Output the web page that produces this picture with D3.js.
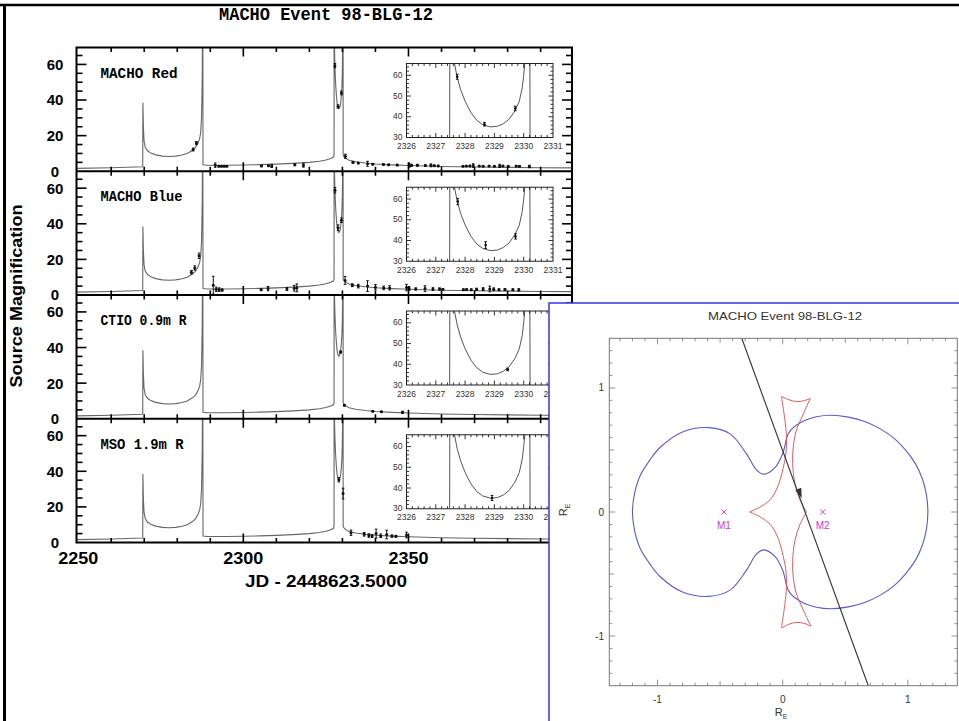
<!DOCTYPE html>
<meta charset="utf-8">
<style>
body { margin: 0; background: #fff; }
svg { display: block; }
</style>
<body>
<script src="https://cdnjs.cloudflare.com/ajax/libs/d3/7.8.5/d3.min.js"></script>
<script>
// ---- light curve model (JD - 2448623.5, magnification)
var model = [
  [2249.5, 1.6], [2260, 2.0], [2269.55, 2.5], [2269.6, 38.5], [2269.75, 25], [2269.95, 17],
  [2270.3, 13.5], [2271, 11.5], [2272, 10.2], [2273.5, 9.2], [2275.5, 8.5], [2277.5, 8.3],
  [2279.5, 8.5], [2281.5, 9.1], [2283, 10], [2284.5, 11.6], [2285.5, 13.3], [2286.3, 15.8],
  [2286.8, 18.5], [2287.1, 22], [2287.35, 30], [2287.55, 50], [2287.65, 80], [2287.75, 80],
  [2287.8, 3.6], [2289, 3.4], [2295, 3.4], [2300, 3.5], [2305, 3.7], [2310, 4.0], [2315, 4.4],
  [2320, 5.0], [2323, 5.6], [2325, 6.3], [2326.5, 7.2], [2327.3, 8.0], [2327.47, 9],
  [2327.48, 80], [2327.55, 80], [2327.64, 65.5], [2327.73, 59], [2327.85, 53], [2328.0, 47.5],
  [2328.2, 42], [2328.4, 38.3], [2328.6, 36.2], [2328.86, 35.1], [2329.1, 35.4], [2329.3, 36.6],
  [2329.5, 38.8], [2329.7, 42.8], [2329.85, 47.5], [2329.95, 54], [2330.0, 60], [2330.04, 66],
  [2330.1, 80], [2330.21, 80], [2330.22, 9], [2330.5, 8.2], [2331, 7.2], [2332, 6.2],
  [2334, 5.3], [2337, 4.6], [2340, 4.1], [2345, 3.6], [2350, 3.2], [2360, 2.7], [2370, 2.4],
  [2380, 2.2], [2390, 2.0], [2399.5, 1.9]
];

// ---- observations: [JD, magnification, error]
var redPts = [
  [2284.8, 12.2, 0.8], [2285.8, 15.8, 0.9], [2291.5, 3.4, 1.2], [2292.6, 2.8, 0.3], [2293.4, 2.8, 0.3],
  [2294.2, 2.8, 0.3], [2295, 2.8, 0.3], [2305.5, 3.0, 0.4], [2307.6, 3.1, 0.4], [2308.6, 3.0, 0.9],
  [2315.6, 3.6, 0.5], [2318.2, 3.4, 1.1], [2327.73, 59.3, 1.2], [2328.66, 36.4, 0.9], [2329.71, 44.0, 1.1],
  [2330.9, 8.4, 1.2], [2333.2, 5.0, 0.5], [2334.8, 4.6, 0.4], [2337.6, 4.2, 1.4], [2339.2, 4.0, 0.4],
  [2342.4, 3.8, 0.4], [2344.0, 3.6, 0.4], [2346.6, 3.5, 0.4], [2350.2, 3.4, 1.2], [2350.9, 3.3, 0.6],
  [2352.7, 3.4, 0.5], [2355.1, 3.2, 0.4], [2356.8, 3.3, 0.8], [2357.8, 3.1, 0.4], [2359.0, 3.0, 0.4],
  [2366.5, 2.8, 0.3], [2367.5, 2.9, 0.3], [2368.6, 3.0, 0.4], [2369.6, 3.2, 1.0], [2371.4, 2.9, 0.3],
  [2372.6, 2.8, 0.3], [2374.4, 2.9, 0.3], [2376.0, 2.8, 0.3], [2377.6, 3.0, 0.9], [2378.6, 3.0, 0.3],
  [2380.2, 2.8, 0.3], [2382.6, 2.9, 0.3], [2383.6, 2.8, 0.3], [2386.6, 2.7, 0.7]
];
var bluePts = [
  [2284.3, 12.8, 1.0], [2285.3, 15.2, 1.2], [2286.6, 22.0, 1.5], [2290.9, 5.5, 5.0], [2291.8, 3.2, 1.2],
  [2292.7, 3.0, 1.0], [2293.6, 2.8, 0.6], [2305.4, 3.0, 0.5], [2307.5, 3.6, 1.2], [2313.2, 3.4, 0.8],
  [2315.4, 3.8, 1.6], [2316.2, 4.0, 2.2], [2327.75, 58.8, 1.5], [2328.7, 37.8, 1.6], [2329.72, 42.0, 1.3],
  [2330.8, 8.2, 2.2], [2333.0, 5.5, 0.8], [2334.8, 5.0, 1.0], [2337.6, 5.0, 3.0], [2340.0, 4.4, 1.5],
  [2342.5, 4.0, 1.0], [2344.3, 4.0, 1.2], [2349.4, 4.2, 1.8], [2350.2, 3.6, 1.0], [2352.2, 3.4, 0.6],
  [2355.0, 3.6, 1.6], [2357.4, 3.3, 0.8], [2359.4, 3.4, 0.6], [2360.4, 3.2, 0.4], [2366.6, 3.0, 0.4],
  [2367.6, 3.1, 0.4], [2369.0, 3.0, 0.4], [2370.6, 3.2, 0.6], [2372.6, 3.3, 0.8], [2374.6, 3.4, 1.6],
  [2375.8, 3.2, 0.8], [2377.4, 3.0, 0.5], [2379.2, 3.1, 0.5], [2381.6, 3.0, 0.5], [2383.4, 2.9, 0.6]
];
var ctioPts = [
  [2329.45, 37.5, 0.6], [2330.6, 7.6, 0.4], [2339.2, 4.2, 0.3], [2341.8, 3.9, 0.3], [2348.2, 3.6, 0.6]
];
var msoPts = [
  [2328.92, 35.2, 1.2], [2330.2, 27.5, 3.0], [2332.6, 5.5, 1.5], [2336.6, 4.6, 1.0], [2338.0, 3.9, 1.0],
  [2339.0, 3.6, 0.8], [2340.2, 5.0, 2.5], [2341.6, 3.8, 1.0], [2343.4, 4.5, 2.4], [2345.0, 3.6, 0.6],
  [2346.2, 3.5, 0.5], [2349.4, 4.2, 1.6]
];

var panelNames = ["MACHO Red", "MACHO Blue", "CTIO 0.9m R", "MSO 1.9m R"];
var panelPts = [redPts, bluePts, ctioPts, msoPts];
var xLabels = [2250, 2300, 2350];
var yLabels = [0, 20, 40, 60];
var insetXLabels = [2326, 2327, 2328, 2329, 2330, 2331];
var insetYLabels = [30, 40, 50, 60];

// ---- lens geometry (units of R_E)
var critCurve = [
  [-1.20, 0.0], [-1.185, 0.14], [-1.14, 0.29], [-1.06, 0.42], [-0.98, 0.52], [-0.80, 0.645],
  [-0.59, 0.68], [-0.42, 0.63], [-0.29, 0.47], [-0.21, 0.34], [-0.15, 0.305], [-0.06, 0.36],
  [0.0, 0.47], [0.05, 0.64], [0.14, 0.72], [0.27, 0.768], [0.39, 0.78], [0.525, 0.765],
  [0.655, 0.73], [0.78, 0.67], [0.888, 0.595], [0.98, 0.50], [1.06, 0.39], [1.115, 0.27],
  [1.148, 0.14], [1.16, 0.0],
  [1.148, -0.14], [1.115, -0.27], [1.06, -0.39], [0.98, -0.50], [0.888, -0.595], [0.78, -0.67],
  [0.655, -0.73], [0.525, -0.765], [0.39, -0.78], [0.27, -0.768], [0.14, -0.72], [0.05, -0.64],
  [0.0, -0.47], [-0.06, -0.36], [-0.15, -0.305], [-0.21, -0.34], [-0.29, -0.47], [-0.42, -0.63],
  [-0.59, -0.68], [-0.80, -0.645], [-0.98, -0.52], [-1.06, -0.42], [-1.14, -0.29], [-1.185, -0.14]
];
var causticTop = [[-0.01, 0.93], [0.05, 0.905], [0.11, 0.89], [0.17, 0.897], [0.22, 0.915]];
var causticRightUp = [[0.22, 0.915], [0.165, 0.79], [0.11, 0.66], [0.085, 0.53], [0.08, 0.39], [0.098, 0.23], [0.138, 0.10], [0.19, 0.0]];
var causticLeftUp = [[-0.01, 0.93], [0.018, 0.74], [0.03, 0.61], [0.026, 0.47], [0.005, 0.36], [-0.02, 0.26], [-0.05, 0.18], [-0.10, 0.10], [-0.18, 0.04], [-0.264, 0.0]];
var causticBottom = [[-0.01, -0.935], [0.05, -0.905], [0.11, -0.89], [0.17, -0.897], [0.225, -0.92]];
var causticRightDown = [[0.225, -0.92], [0.165, -0.79], [0.11, -0.66], [0.085, -0.53], [0.08, -0.39], [0.098, -0.23], [0.138, -0.10], [0.19, 0.0]];
var causticLeftDown = [[-0.01, -0.935], [0.018, -0.74], [0.03, -0.61], [0.026, -0.47], [0.005, -0.36], [-0.02, -0.26], [-0.05, -0.18], [-0.10, -0.10], [-0.18, -0.04], [-0.264, 0.0]];
var trajectory = [[-0.327, 1.4], [0.684, -1.4]];
var arrowAt = [0.152, 0.11];
var masses = [{name: "M1", x: -0.47, y: 0}, {name: "M2", x: 0.32, y: 0}];
var rTickLabels = [-1, 0, 1];

var sans = "'Liberation Sans', Arial, sans-serif";
var mono = "'Liberation Mono', 'Courier New', monospace";

var svg = d3.select("body").append("svg").attr("width", 959).attr("height", 721);
svg.append("rect").attr("width", 959).attr("height", 721).attr("fill", "#fff");

// outer scan border
svg.append("line").attr("x1", 0).attr("y1", 5).attr("x2", 959).attr("y2", 5)
  .attr("stroke", "#000").attr("stroke-width", 2.5);
svg.append("line").attr("x1", 4.5).attr("y1", 4).attr("x2", 4.5).attr("y2", 721)
  .attr("stroke", "#000").attr("stroke-width", 3);

svg.append("text").attr("x", 326).attr("y", 20).attr("text-anchor", "middle")
  .attr("font-family", mono).attr("font-size", 18).attr("font-weight", "bold")
  .attr("textLength", 214).attr("lengthAdjust", "spacingAndGlyphs")
  .text("MACHO Event 98-BLG-12");

var x = d3.scaleLinear().domain([2249.5, 2399.5]).range([76.5, 572]);
var panelH = 123.75, top0 = 47.5;
var line = function (xs, ys) { return d3.line().x(function (d) { return xs(d[0]); }).y(function (d) { return ys(d[1]); }); };

function drawPoints(g, pts, xs, ys, r, cap) {
  var p = g.selectAll(null).data(pts).enter().append("g");
  p.append("line")
    .attr("x1", function (d) { return xs(d[0]); }).attr("x2", function (d) { return xs(d[0]); })
    .attr("y1", function (d) { return ys(d[1] - d[2]); }).attr("y2", function (d) { return ys(d[1] + d[2]); })
    .attr("stroke", "#111").attr("stroke-width", 1);
  [-1, 1].forEach(function (s) {
    p.append("line")
      .attr("x1", function (d) { return xs(d[0]) - cap; }).attr("x2", function (d) { return xs(d[0]) + cap; })
      .attr("y1", function (d) { return ys(d[1] + s * d[2]); }).attr("y2", function (d) { return ys(d[1] + s * d[2]); })
      .attr("stroke", "#111").attr("stroke-width", 1);
  });
  p.append("circle").attr("cx", function (d) { return xs(d[0]); }).attr("cy", function (d) { return ys(d[1]); })
    .attr("r", r).attr("fill", "#111");
}

function tick(g, x1, y1, x2, y2, w) {
  g.append("line").attr("x1", x1).attr("y1", y1).attr("x2", x2).attr("y2", y2)
    .attr("stroke", "#000").attr("stroke-width", w);
}

var labelW = [77, 82, 86, 83];

panelNames.forEach(function (name, i) {
  var top = top0 + i * panelH, bot = top + panelH;
  var y = d3.scaleLinear().domain([0, 69.5]).range([bot, top]);
  var g = svg.append("g");
  svg.append("clipPath").attr("id", "clip" + i).append("rect")
    .attr("x", x.range()[0]).attr("y", top).attr("width", x.range()[1] - x.range()[0]).attr("height", panelH);
  var plot = g.append("g").attr("clip-path", "url(#clip" + i + ")");
  plot.append("path").datum(model).attr("d", line(x, y)).attr("fill", "none")
    .attr("stroke", "#666").attr("stroke-width", 1.1);
  drawPoints(plot, panelPts[i], x, y, 1.5, 1.3);

  // x ticks on top and bottom, pointing inward
  d3.range(2260, 2400, 10).forEach(function (t) {
    var len = t % 50 === 0 ? 9 : 4.5;
    tick(g, x(t), bot, x(t), bot - len, 1.6);
    tick(g, x(t), top, x(t), top + len, 1.6);
  });
  // y ticks left and right
  d3.range(5, 69, 5).forEach(function (v) {
    var len = v % 20 === 0 ? 10 : 6;
    tick(g, x.range()[0], y(v), x.range()[0] + len, y(v), 1.6);
    tick(g, x.range()[1], y(v), x.range()[1] - len, y(v), 1.6);
  });
  g.selectAll(null).data(yLabels).enter().append("text")
    .attr("x", 55).attr("y", function (d) { return y(d); }).attr("dy", "0.36em")
    .attr("text-anchor", "middle").attr("font-family", sans).attr("font-size", 15).attr("font-weight", "bold")
    .text(function (d) { return d; });

  g.append("text").attr("x", 100.5).attr("y", top + 30)
    .attr("font-family", mono).attr("font-size", 14).attr("font-weight", "bold")
    .attr("textLength", labelW[i]).attr("lengthAdjust", "spacingAndGlyphs").text(name);

  // inset around the second caustic crossing
  var ix = d3.scaleLinear().domain([2326, 2331]).range([406.5, 553]);
  var iy = d3.scaleLinear().domain([30, 65.7]).range([top + 90, top + 16]);
  var ig = svg.append("g");
  ig.append("rect").attr("x", 406.5).attr("y", top + 16).attr("width", 146.5).attr("height", 74)
    .attr("fill", "#fff");
  svg.append("clipPath").attr("id", "iclip" + i).append("rect")
    .attr("x", 406.5).attr("y", top + 16).attr("width", 146.5).attr("height", 74);
  var ip = ig.append("g").attr("clip-path", "url(#iclip" + i + ")");
  ip.append("path").datum(model.filter(function (d) { return d[0] > 2320 && d[0] < 2335; }))
    .attr("d", line(ix, iy)).attr("fill", "none").attr("stroke", "#555").attr("stroke-width", 1);
  drawPoints(ip, panelPts[i].filter(function (d) { return d[0] > 2326 && d[0] < 2331 && d[1] > 30; }), ix, iy, 1.3, 1.3);
  d3.range(1, 25).forEach(function (k) {
    var t = 2326 + k * 0.2, len = k % 5 === 0 ? 4.5 : 2.5;
    tick(ig, ix(t), top + 90, ix(t), top + 90 - len, 0.8);
    tick(ig, ix(t), top + 16, ix(t), top + 16 + len, 0.8);
  });
  d3.range(32, 66, 2).forEach(function (v) {
    var len = v % 10 === 0 ? 4.5 : 2.5;
    tick(ig, 406.5, iy(v), 406.5 + len, iy(v), 0.8);
    tick(ig, 553, iy(v), 553 - len, iy(v), 0.8);
  });
  ig.append("rect").attr("x", 406.5).attr("y", top + 16).attr("width", 146.5).attr("height", 74)
    .attr("fill", "none").attr("stroke", "#222").attr("stroke-width", 1);
  ig.selectAll(null).data(insetXLabels).enter().append("text")
    .attr("x", function (d) { return ix(d); }).attr("y", top + 101.5)
    .attr("text-anchor", "middle").attr("font-family", sans).attr("font-size", 8.5).attr("fill", "#333")
    .text(function (d) { return d; });
  ig.selectAll(null).data(insetYLabels).enter().append("text")
    .attr("x", 402.5).attr("y", function (d) { return iy(d); }).attr("dy", "0.3em")
    .attr("text-anchor", "end").attr("font-family", sans).attr("font-size", 8.5).attr("fill", "#333")
    .text(function (d) { return d; });
});

// frame and panel separators
svg.append("rect").attr("x", x.range()[0]).attr("y", top0)
  .attr("width", x.range()[1] - x.range()[0]).attr("height", 4 * panelH)
  .attr("fill", "none").attr("stroke", "#000").attr("stroke-width", 2);
[1, 2, 3].forEach(function (i) {
  tick(svg, x.range()[0], top0 + i * panelH, x.range()[1], top0 + i * panelH, 2);
});

svg.selectAll(null).data(xLabels).enter().append("text")
  .attr("x", function (d) { return x(d); }).attr("y", 564).attr("text-anchor", "middle")
  .attr("font-family", sans).attr("font-size", 17).attr("font-weight", "bold")
  .attr("textLength", 40).attr("lengthAdjust", "spacingAndGlyphs").text(function (d) { return d; });

svg.append("text").attr("x", 326).attr("y", 587).attr("text-anchor", "middle")
  .attr("font-family", sans).attr("font-size", 16).attr("font-weight", "bold")
  .attr("textLength", 162).attr("lengthAdjust", "spacingAndGlyphs").text("JD - 2448623.5000");

svg.append("text").attr("transform", "translate(21.5,296) rotate(-90)").attr("text-anchor", "middle")
  .attr("font-family", sans).attr("font-size", 16).attr("font-weight", "bold")
  .attr("textLength", 183).attr("lengthAdjust", "spacingAndGlyphs").text("Source Magnification");

// ---- overlaid lens-geometry panel
var rp = svg.append("g");
rp.append("rect").attr("x", 549).attr("y", 303).attr("width", 420).attr("height", 430)
  .attr("fill", "#fff").attr("stroke", "#3535f0").attr("stroke-width", 1.5);
var rx = d3.scaleLinear().domain([-1.385, 1.395]).range([609.3, 957.3]);
var ry = d3.scaleLinear().domain([-1.4, 1.4]).range([685.7, 338.3]);

rp.append("text").attr("x", 785).attr("y", 320).attr("text-anchor", "middle")
  .attr("font-family", sans).attr("font-size", 11).attr("fill", "#333")
  .attr("textLength", 154).attr("lengthAdjust", "spacingAndGlyphs").text("MACHO Event 98-BLG-12");

svg.append("clipPath").attr("id", "rclip").append("rect")
  .attr("x", 609.3).attr("y", 338.3).attr("width", 348).attr("height", 347.4);
var rplot = rp.append("g").attr("clip-path", "url(#rclip)");

rplot.append("path").datum(critCurve)
  .attr("d", line(rx, ry).curve(d3.curveCatmullRomClosed))
  .attr("fill", "none").attr("stroke", "#5a5ad2").attr("stroke-width", 1.1);
[causticTop, causticRightUp, causticLeftUp, causticBottom, causticRightDown, causticLeftDown].forEach(function (seg) {
  rplot.append("path").datum(seg).attr("d", line(rx, ry).curve(d3.curveCatmullRom))
    .attr("fill", "none").attr("stroke", "#e05a5a").attr("stroke-width", 1);
});
rplot.append("path").datum(trajectory).attr("d", line(rx, ry))
  .attr("fill", "none").attr("stroke", "#333").attr("stroke-width", 1.1);
var ang = Math.atan2(ry(trajectory[1][1]) - ry(trajectory[0][1]), rx(trajectory[1][0]) - rx(trajectory[0][0])) * 180 / Math.PI;
rplot.append("path").attr("d", "M0,0 L-10,-3.2 L-10,3.2 Z")
  .attr("transform", "translate(" + rx(arrowAt[0]) + "," + ry(arrowAt[1]) + ") rotate(" + ang + ")")
  .attr("fill", "#333");

masses.forEach(function (m) {
  var cx = rx(m.x), cy = ry(m.y);
  rplot.append("path").attr("d", "M" + (cx - 2.5) + "," + (cy - 2.5) + "L" + (cx + 2.5) + "," + (cy + 2.5) +
    "M" + (cx - 2.5) + "," + (cy + 2.5) + "L" + (cx + 2.5) + "," + (cy - 2.5))
    .attr("stroke", "#c63cc6").attr("stroke-width", 1);
  rplot.append("text").attr("x", cx).attr("y", cy + 17).attr("text-anchor", "middle")
    .attr("font-family", sans).attr("font-size", 10).attr("fill", "#c63cc6").text(m.name);
});

// frame ticks
var rticks = rp.append("g");
d3.range(-13, 14).forEach(function (k) {
  var v = k / 10, len = k % 10 === 0 ? 6 : (k % 5 === 0 ? 4.5 : 3);
  tick(rticks, rx(v), 685.7, rx(v), 685.7 - len, 0.8);
  tick(rticks, rx(v), 338.3, rx(v), 338.3 + len, 0.8);
  tick(rticks, 609.3, ry(v), 609.3 + len, ry(v), 0.8);
  tick(rticks, 957.3, ry(v), 957.3 - len, ry(v), 0.8);
});
rticks.selectAll("line").attr("stroke", "#777");
rp.append("rect").attr("x", 609.3).attr("y", 338.3).attr("width", 348).attr("height", 347.4)
  .attr("fill", "none").attr("stroke", "#777").attr("stroke-width", 1);

rp.selectAll(null).data(rTickLabels).enter().append("text")
  .attr("x", function (d) { return rx(d); }).attr("y", 703).attr("text-anchor", "middle")
  .attr("font-family", sans).attr("font-size", 10).attr("fill", "#333").text(function (d) { return d; });
rp.selectAll(null).data(rTickLabels).enter().append("text")
  .attr("x", 604).attr("y", function (d) { return ry(d); }).attr("dy", "0.35em").attr("text-anchor", "end")
  .attr("font-family", sans).attr("font-size", 10).attr("fill", "#333").text(function (d) { return d; });

var xt = rp.append("text").attr("x", 781).attr("y", 716).attr("text-anchor", "middle")
  .attr("font-family", sans).attr("font-size", 11).attr("fill", "#333");
xt.append("tspan").text("R");
xt.append("tspan").attr("font-size", 7).attr("dy", 3).text("E");
var yt = rp.append("text").attr("transform", "translate(567,510) rotate(-90)").attr("text-anchor", "middle")
  .attr("font-family", sans).attr("font-size", 11).attr("fill", "#333");
yt.append("tspan").text("R");
yt.append("tspan").attr("font-size", 7).attr("dy", 3).text("E");
</script>
</body>
